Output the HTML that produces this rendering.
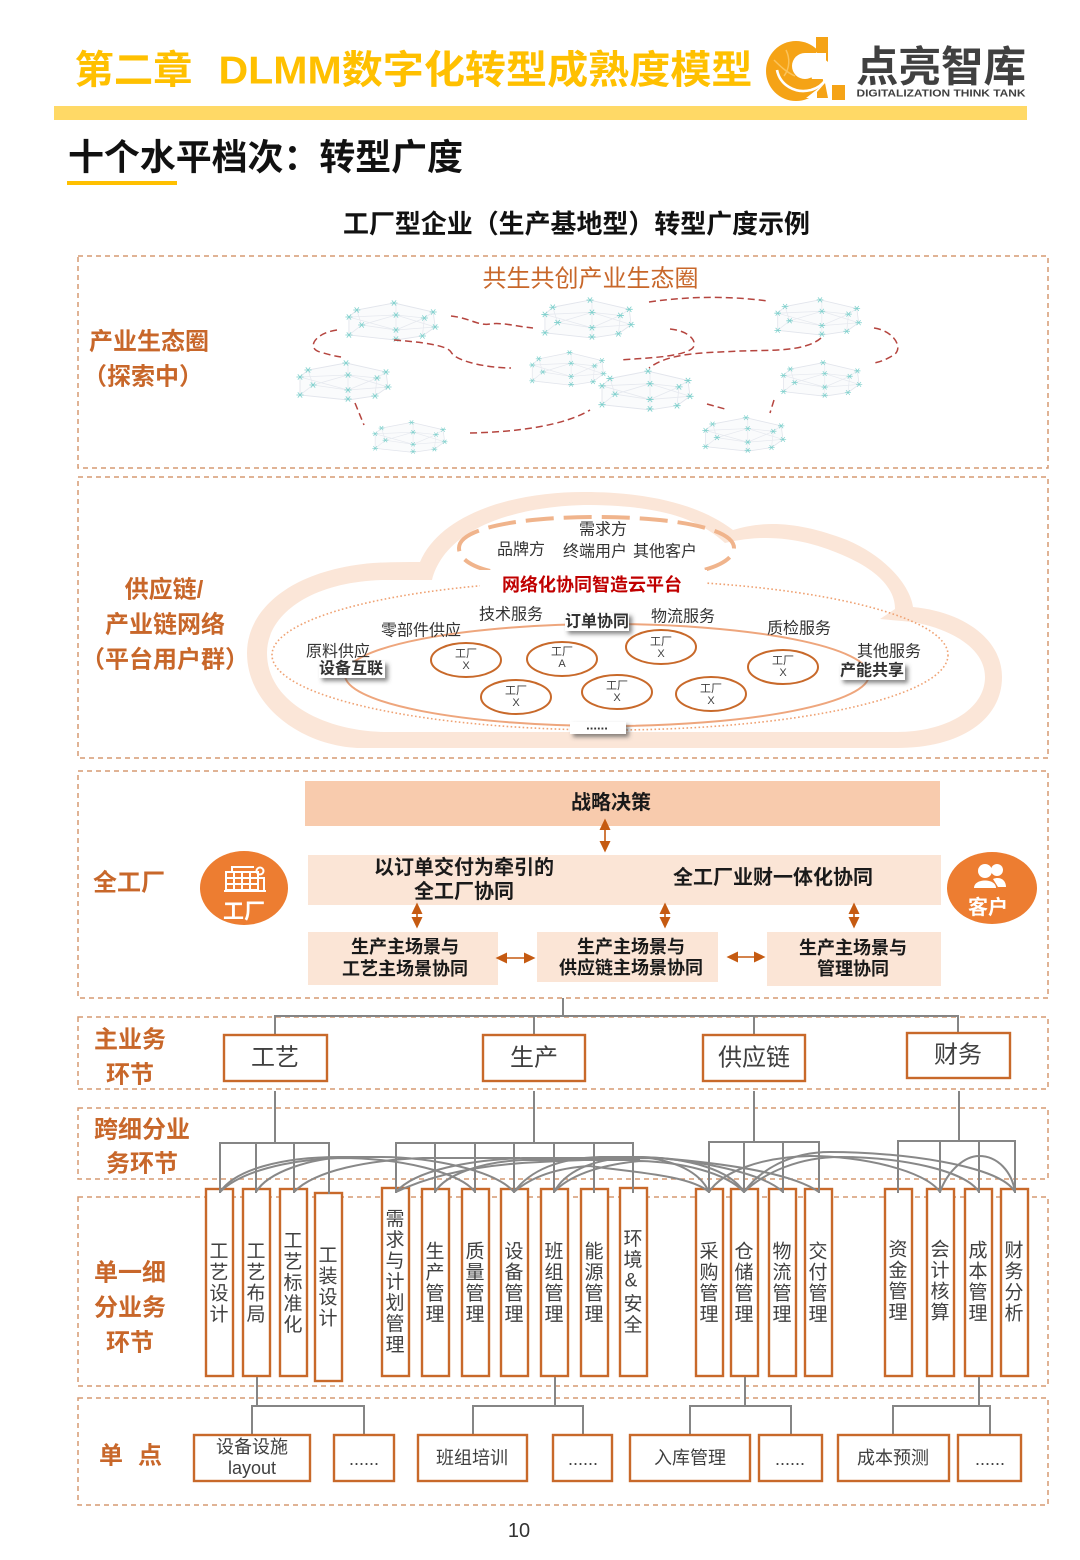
<!DOCTYPE html>
<html lang="zh"><head><meta charset="utf-8"><title>DLMM</title>
<style>
html,body{margin:0;padding:0;background:#fff}
svg{display:block}
text{font-family:"Liberation Sans","Noto Sans CJK SC",sans-serif;text-anchor:middle;dominant-baseline:central;fill:#262626}
.b{font-weight:700}
.lab{font-weight:700;font-size:24px;fill:#c8672a}
.s{font-size:16px;fill:#333}
.c{font-size:20px;font-weight:700;fill:#1a1a1a}
.k{font-size:24px;fill:#404040}
.v{font-size:19px;fill:#404040;writing-mode:vertical-rl;text-orientation:upright;letter-spacing:2px}
.w{font-size:18px;fill:#404040}
.f{font-size:11px;fill:#404040}
.box{fill:#fff;stroke:#c8692a;stroke-width:2.4}
.sec{fill:none;stroke:#d59a72;stroke-width:1.5;stroke-dasharray:5 4}
.g{fill:none;stroke:#858585;stroke-width:2}
.cv{fill:none;stroke:#888;stroke-width:2}
.r{fill:none;stroke:#b5453f;stroke-width:1.5;stroke-dasharray:7 4}
.ar{stroke:#c55a11;stroke-width:1.6;fill:none;marker-start:url(#ah);marker-end:url(#ah)}
</style></head><body>
<svg xmlns="http://www.w3.org/2000/svg" width="1080" height="1560" viewBox="0 0 1080 1560">
<defs>
<marker id="ah" markerWidth="12" markerHeight="12" refX="1" refY="5.5" orient="auto-start-reverse" markerUnits="userSpaceOnUse"><path d="M0 0L11.5 5.5L0 11Z" fill="#c55a11"/></marker>
<g id="nd"><path d="M-3.6 0H3.6M-2.2 -2.6L2.2 2.6M-2.2 2.6L2.2 -2.6" stroke="#7dd0cc" stroke-width=".8" fill="none"/></g>
<symbol id="net" viewBox="0 0 100 42" preserveAspectRatio="none">
<path d="M4 17L12 10L50 3L90 12L92 27L79 36L52 40L4 35Z" fill="#fafbfc" stroke="#e2e5ec" stroke-width=".9"/>
<path d="M4 17L52 15L81 18L90 12M4 35L17 25L52 30L92 27M52 3V40M12 10L17 25M81 18L79 36M4 17L52 30M52 15L92 27M17 25L52 15M52 30L81 18" stroke="#e6e9ef" stroke-width=".8" fill="none"/>
<use href="#nd" x="50" y="3"/><use href="#nd" x="12" y="10"/><use href="#nd" x="90" y="12"/><use href="#nd" x="4" y="17"/><use href="#nd" x="81" y="18"/><use href="#nd" x="52" y="15"/><use href="#nd" x="17" y="25"/><use href="#nd" x="92" y="27"/><use href="#nd" x="52" y="30"/><use href="#nd" x="4" y="35"/><use href="#nd" x="79" y="36"/><use href="#nd" x="52" y="39"/>
</symbol>
<filter id="sh" x="-20%" y="-40%" width="150%" height="210%"><feDropShadow dx="3" dy="3" stdDeviation="2" flood-color="#444" flood-opacity=".65"/></filter>
</defs>

<!-- header -->
<text class="b" x="133.5" y="71" font-size="39" style="fill:#ffc000" textLength="118" lengthAdjust="spacingAndGlyphs">第二章</text>
<text class="b" x="485.5" y="71" font-size="39" style="fill:#ffc000" textLength="534" lengthAdjust="spacingAndGlyphs">DLMM数字化转型成熟度模型</text>
<!-- logo -->
<circle cx="796" cy="71" r="30" fill="#f5a316"/>
<path d="M816 37H828V62L816 52Z" fill="#f5a316"/>
<path d="M816 52L826 60V84L818 98L806 98L824 84Z" fill="#fff"/>
<path d="M817 92L825 83L828 98H817Z" fill="#f5a316"/>
<circle cx="805" cy="66" r="13" fill="#fff"/>
<path d="M805 53H826V79H812Z" fill="#fff"/>
<path d="M777 70C780 85 795 94 811 90C818 88 823 84 826 79" stroke="#fff" stroke-width="2.6" fill="none"/>
<path d="M786 50C790 58 790 68 784 76M774 60C780 66 786 72 795 76" stroke="#fbc35a" stroke-width="1.5" fill="none"/>
<rect x="832" y="85" width="13" height="15" fill="#f5a316"/>
<text class="b" x="941" y="67" font-size="42" style="fill:#404040" textLength="170" lengthAdjust="spacingAndGlyphs">点亮智库</text>
<text class="b" x="941" y="94" font-size="10" style="fill:#404040" textLength="169" lengthAdjust="spacingAndGlyphs">DIGITALIZATION THINK TANK</text>
<rect x="54" y="106" width="973" height="14" fill="#ffd966"/>
<text class="b" x="265.5" y="157" font-size="36" style="fill:#111" textLength="395" lengthAdjust="spacingAndGlyphs">十个水平档次&#xFF1A;转型广度</text>
<rect x="67" y="181" width="110" height="4" fill="#ffc000"/>
<text class="b" x="576.5" y="224" font-size="26" style="fill:#111" textLength="467" lengthAdjust="spacingAndGlyphs">工厂型企业&#xFF08;生产基地型&#xFF09;转型广度示例</text>

<!-- sections -->
<rect class="sec" x="78" y="256" width="970" height="212"/>
<rect class="sec" x="78" y="477" width="970" height="281"/>
<rect class="sec" x="78" y="771" width="970" height="227"/>
<rect class="sec" x="78" y="1017" width="970" height="72"/>
<rect class="sec" x="78" y="1108" width="970" height="71"/>
<rect class="sec" x="78" y="1197" width="970" height="189"/>
<rect class="sec" x="78" y="1398" width="970" height="107"/>

<!-- left labels -->
<text class="lab" x="149" y="342">产业生态圈</text>
<text class="lab" x="143" y="377">&#xFF08;探索中&#xFF09;</text>
<text class="lab" x="164" y="590">供应链/</text>
<text class="lab" x="165" y="625">产业链网络</text>
<text class="lab" x="165" y="660">&#xFF08;平台用户群&#xFF09;</text>
<text class="lab" x="129" y="883">全工厂</text>
<text class="lab" x="130" y="1040">主业务</text>
<text class="lab" x="130" y="1075">环节</text>
<text class="lab" x="142" y="1130">跨细分业</text>
<text class="lab" x="142" y="1164">务环节</text>
<text class="lab" x="130" y="1273">单一细</text>
<text class="lab" x="130" y="1308">分业务</text>
<text class="lab" x="130" y="1343">环节</text>
<text class="lab" x="111" y="1456">单</text>
<text class="lab" x="150" y="1456">点</text>

<!-- ecosystem -->
<text x="590.5" y="279" font-size="24" style="fill:#c8672a">共生共创产业生态圈</text>
<use href="#net" x="345" y="300" width="98" height="42"/>
<use href="#net" x="541" y="297" width="98" height="43"/>
<use href="#net" x="774" y="297" width="92" height="40"/>
<use href="#net" x="529" y="350" width="81" height="37"/>
<use href="#net" x="296" y="360" width="100" height="42"/>
<use href="#net" x="598" y="368" width="100" height="44"/>
<use href="#net" x="780" y="360" width="86" height="38"/>
<use href="#net" x="372" y="420" width="79" height="34"/>
<use href="#net" x="702" y="415" width="88" height="38"/>
<path class="r" d="M451 316C470 318 478 326 490 324S520 327 533 328"/>
<path class="r" d="M649 302C690 296 730 296 768 301"/>
<path class="r" d="M337 330C315 333 306 348 320 352S335 356 341 357"/>
<path class="r" d="M394 340C420 342 447 345 451 352C456 362 490 368 511 368"/>
<path class="r" d="M670 329C692 331 700 345 690 350C675 358 640 358 621 360"/>
<path class="r" d="M821 338C805 352 770 350 740 351C705 353 670 352 649 368"/>
<path class="r" d="M874 328C895 331 905 350 892 356C885 360 880 362 874 363"/>
<path class="r" d="M355 403L364 425"/>
<path class="r" d="M470 433C520 432 565 425 590 410"/>
<path class="r" d="M707 404L725 409"/>
<path class="r" d="M774 400L770 413"/>

<!-- cloud -->
<path d="M357 748C300 745 247 705 247 653C247 610 290 570 373 563C390 562 405 562 420 562C440 515 510 492 584 492C650 492 700 505 733 530C765 520 800 522 847 540C885 556 910 585 913 607C965 612 1002 640 1002 677C1002 720 960 748 897 748Z" fill="#fbe6d8"/>
<path d="M383 732C320 730 267 700 267 653C267 615 310 582 383 580L432 580C445 530 510 507 584 505C650 505 695 515 725 543C770 532 810 540 847 557C880 572 895 590 895 609L880 619L913 622C955 630 985 650 985 677C985 710 945 732 897 732Z" fill="#fff"/>
<path d="M459 548C459 528 520 517 596 517C672 517 734 528 734 548C734 558 720 566 700 571M490 571C470 566 459 558 459 548" fill="none" stroke="#f0b48c" stroke-width="4" stroke-dasharray="28 10"/>
<ellipse cx="610" cy="655" rx="338" ry="75" fill="none" stroke="#efa273" stroke-width="1.6" stroke-dasharray="1.6 2.4"/>
<rect x="480" y="570" width="227" height="28" fill="#fff"/>
<ellipse cx="607" cy="675" rx="262" ry="51" fill="none" stroke="#eea67d" stroke-width="2"/>
<text class="s" x="603" y="530">需求方</text>
<text class="s" x="521" y="550">品牌方</text>
<text class="s" x="595" y="552">终端用户</text>
<text class="s" x="665" y="552">其他客户</text>
<text class="b" x="592" y="585" font-size="18" style="fill:#c00000">网络化协同智造云平台</text>
<text class="s" x="511" y="615">技术服务</text>
<text class="s" x="683" y="617">物流服务</text>
<text class="s" x="421" y="631">零部件供应</text>
<text class="s" x="799" y="629">质检服务</text>
<text class="s" x="338" y="652">原料供应</text>
<text class="s" x="889" y="652">其他服务</text>
<rect x="319" y="661" width="66" height="17" fill="#fff" filter="url(#sh)"/>
<text class="b" x="351" y="669" font-size="16" style="fill:#333">设备互联</text>
<rect x="840" y="663" width="65" height="17" fill="#fff" filter="url(#sh)"/>
<text class="b" x="872" y="671" font-size="16" style="fill:#333">产能共享</text>
<rect x="565" y="613" width="64" height="18" fill="#fff" filter="url(#sh)"/>
<text class="b" x="597" y="622" font-size="16" style="fill:#333">订单协同</text>
<rect x="570" y="722" width="56" height="12" fill="#fff" filter="url(#sh)"/>
<text class="b" x="597" y="725" font-size="13" style="fill:#333">......</text>
<g fill="#fff" stroke="#c8692a" stroke-width="2">
<ellipse cx="466" cy="660" rx="35" ry="17"/><ellipse cx="562" cy="659" rx="35" ry="17"/><ellipse cx="661" cy="647" rx="35" ry="17"/><ellipse cx="783" cy="667" rx="35" ry="17"/><ellipse cx="516" cy="697" rx="35" ry="17"/><ellipse cx="617" cy="692" rx="35" ry="17"/><ellipse cx="711" cy="694" rx="35" ry="17"/>
</g>
<text class="f" x="466" y="654">工厂</text><text class="f" x="466" y="666">X</text>
<text class="f" x="562" y="652">工厂</text><text class="f" x="562" y="664">A</text>
<text class="f" x="661" y="642">工厂</text><text class="f" x="661" y="654">X</text>
<text class="f" x="783" y="661">工厂</text><text class="f" x="783" y="673">X</text>
<text class="f" x="516" y="691">工厂</text><text class="f" x="516" y="703">X</text>
<text class="f" x="617" y="686">工厂</text><text class="f" x="617" y="698">X</text>
<text class="f" x="711" y="689">工厂</text><text class="f" x="711" y="701">X</text>

<!-- full factory -->
<rect x="305" y="781" width="635" height="45" fill="#f8cbad"/>
<text class="c" x="611" y="803">战略决策</text>
<rect x="308" y="855" width="633" height="50" fill="#fbe5d6"/>
<text class="c" x="464" y="868">以订单交付为牵引的</text>
<text class="c" x="464" y="892">全工厂协同</text>
<text class="c" x="773" y="878">全工厂业财一体化协同</text>
<rect x="308" y="932" width="190" height="53" fill="#fbe5d6"/>
<rect x="537" y="932" width="181" height="50" fill="#fbe5d6"/>
<rect x="767" y="932" width="174" height="54" fill="#fbe5d6"/>
<text class="c" style="font-size:18px" x="405" y="947">生产主场景与</text>
<text class="c" style="font-size:18px" x="405" y="969">工艺主场景协同</text>
<text class="c" style="font-size:18px" x="631" y="947">生产主场景与</text>
<text class="c" style="font-size:18px" x="631" y="968">供应链主场景协同</text>
<text class="c" style="font-size:18px" x="853" y="948">生产主场景与</text>
<text class="c" style="font-size:18px" x="853" y="969">管理协同</text>
<line class="ar" x1="605" y1="829" x2="605" y2="842"/>
<line class="ar" x1="417" y1="913" x2="417" y2="918"/>
<line class="ar" x1="665" y1="913" x2="665" y2="918"/>
<line class="ar" x1="854" y1="913" x2="854" y2="918"/>
<line class="ar" x1="506" y1="958" x2="525" y2="958"/>
<line class="ar" x1="737" y1="957" x2="755" y2="957"/>
<ellipse cx="244" cy="888" rx="44" ry="37" fill="#ed7d31"/>
<g fill="none" stroke="#fff" stroke-width="2"><rect x="226" y="872" width="32" height="18"/><path d="M226 878H258M226 884H258M234 872V890M242 872V890M250 872V890M224 891H266M258 878H264V890"/><circle cx="260" cy="871" r="3.5"/><path d="M232 872V867H254"/></g>
<text class="b" x="244" y="912" font-size="21" style="fill:#fff">工厂</text>
<ellipse cx="992" cy="888" rx="45" ry="36" fill="#ed7d31"/>
<g fill="#fff"><circle cx="985" cy="871" r="7"/><circle cx="997" cy="870" r="6"/><path d="M974 888C974 878 996 878 996 888Z"/><path d="M993 879C1000 876 1006 880 1006 887H998Z"/></g>
<text class="b" x="988" y="908" font-size="20" style="fill:#fff">客户</text>

<!-- main business -->
<path class="g" d="M563 998V1016M275 1035V1016H958V1033M534 1016V1035M754 1016V1035"/>
<rect class="box" x="224" y="1035" width="103" height="46"/>
<rect class="box" x="483" y="1035" width="102" height="46"/>
<rect class="box" x="703" y="1035" width="102" height="46"/>
<rect class="box" x="907" y="1033" width="103" height="45"/>
<text class="k" x="275" y="1058">工艺</text>
<text class="k" x="534" y="1058">生产</text>
<text class="k" x="754" y="1058">供应链</text>
<text class="k" x="958" y="1055">财务</text>

<!-- columns -->
<g class="box">
<rect x="206" y="1189" width="27" height="187"/><rect x="243" y="1189" width="27" height="187"/><rect x="280" y="1189" width="27" height="187"/><rect x="315" y="1193" width="27" height="188"/>
<rect x="382" y="1188" width="27" height="188"/><rect x="422" y="1189" width="27" height="187"/><rect x="462" y="1189" width="27" height="187"/><rect x="501" y="1189" width="27" height="187"/><rect x="541" y="1189" width="27" height="187"/><rect x="581" y="1189" width="27" height="187"/><rect x="620" y="1188" width="27" height="188"/>
<rect x="696" y="1189" width="27" height="187"/><rect x="731" y="1189" width="27" height="187"/><rect x="769" y="1189" width="27" height="187"/><rect x="805" y="1189" width="27" height="187"/>
<rect x="885" y="1189" width="27" height="187"/><rect x="927" y="1189" width="27" height="187"/><rect x="965" y="1189" width="27" height="187"/><rect x="1001" y="1189" width="27" height="187"/>
</g>

<!-- trees -->
<path class="g" d="M275 1091V1143M220 1193V1143H329V1194M256 1143V1193M294 1143V1193"/>
<path class="g" d="M534 1091V1143M396 1193V1143H633V1193M435 1143V1193M475 1143V1193M514 1143V1193M554 1143V1193M594 1143V1193"/>
<path class="g" d="M754 1091V1142M709 1193V1142H819V1193M744 1142V1193M783 1142V1193"/>
<path class="g" d="M959 1091V1141M898 1193V1141H1015V1193M940 1141V1193M979 1141V1193"/>
<g class="cv">
<path d="M220 1192C235 1170 280 1157 340 1157H380C430 1157 495 1170 514 1192"/>
<path d="M220 1192C240 1172 285 1160 340 1158C400 1158 460 1172 475 1192"/>
<path d="M256 1192C268 1172 310 1158 350 1157"/>
<path d="M294 1192C315 1170 370 1160 423 1158H520"/>
<path d="M396 1192C415 1170 470 1160 523 1158H640"/>
<path d="M396 1192C425 1178 470 1165 540 1162C580 1160 620 1158 660 1158"/>
<path d="M435 1192C445 1175 480 1162 523 1160H640"/>
<path d="M514 1192C530 1170 560 1158 600 1157H640"/>
<path d="M554 1192C565 1172 590 1160 630 1157H640"/>
<path d="M554 1192C570 1175 600 1165 640 1161C680 1162 725 1172 744 1192"/>
<path d="M514 1192C530 1178 555 1168 590 1166C630 1172 690 1175 709 1192"/>
<path d="M640 1157C675 1160 700 1172 709 1192"/>
<path d="M640 1157C690 1158 730 1170 744 1192"/>
<path d="M640 1157C680 1158 760 1170 783 1192"/>
<path d="M660 1158C720 1163 790 1172 819 1192"/>
<path d="M709 1192C722 1172 760 1157 810 1156C860 1156 925 1170 940 1192"/>
<path d="M744 1192C760 1170 790 1152 830 1152C900 1152 1000 1165 1015 1192"/>
<path d="M744 1192C765 1172 800 1157 840 1157C900 1157 965 1170 979 1192"/>
<path d="M940 1192C948 1170 965 1156 979 1156C998 1156 1012 1172 1015 1192"/>
</g>

<text class="v" x="217" y="1283">工艺设计</text>
<text class="v" x="254" y="1283">工艺布局</text>
<text class="v" x="291" y="1283">工艺标准化</text>
<text class="v" x="326" y="1287">工装设计</text>
<text class="v" x="393" y="1282">需求与计划管理</text>
<text class="v" x="433" y="1283">生产管理</text>
<text class="v" x="473" y="1283">质量管理</text>
<text class="v" x="512" y="1283">设备管理</text>
<text class="v" x="552" y="1283">班组管理</text>
<text class="v" x="592" y="1283">能源管理</text>
<text class="v" x="631" y="1282">环境&amp;安全</text>
<text class="v" x="707" y="1283">采购管理</text>
<text class="v" x="742" y="1283">仓储管理</text>
<text class="v" x="780" y="1283">物流管理</text>
<text class="v" x="816" y="1283">交付管理</text>
<text class="v" x="896" y="1281">资金管理</text>
<text class="v" x="938" y="1281">会计核算</text>
<text class="v" x="976" y="1282">成本管理</text>
<text class="v" x="1012" y="1282">财务分析</text>

<!-- single points -->
<path class="g" d="M257 1377V1406M252 1435V1406H364V1435"/>
<path class="g" d="M555 1377V1406M473 1435V1406H583V1435"/>
<path class="g" d="M745 1377V1406M690 1435V1406H791V1435"/>
<path class="g" d="M979 1377V1406M893 1435V1406H990V1435"/>
<g class="box">
<rect x="194" y="1435" width="116" height="46"/><rect x="334" y="1435" width="60" height="46"/><rect x="418" y="1435" width="109" height="46"/><rect x="553" y="1435" width="59" height="46"/><rect x="630" y="1435" width="120" height="46"/><rect x="759" y="1435" width="63" height="46"/><rect x="838" y="1435" width="111" height="46"/><rect x="958" y="1435" width="63" height="46"/>
</g>
<text class="w" x="252" y="1447">设备设施</text>
<text class="w" x="252" y="1468">layout</text>
<text class="w" x="472" y="1458">班组培训</text>
<text class="w" x="690" y="1458">入库管理</text>
<text class="w" x="893" y="1458">成本预测</text>
<text class="w" x="364" y="1459">......</text>
<text class="w" x="583" y="1459">......</text>
<text class="w" x="790" y="1459">......</text>
<text class="w" x="990" y="1459">......</text>
<text x="519" y="1531" font-size="20" style="fill:#333">10</text>
</svg>
</body></html>
